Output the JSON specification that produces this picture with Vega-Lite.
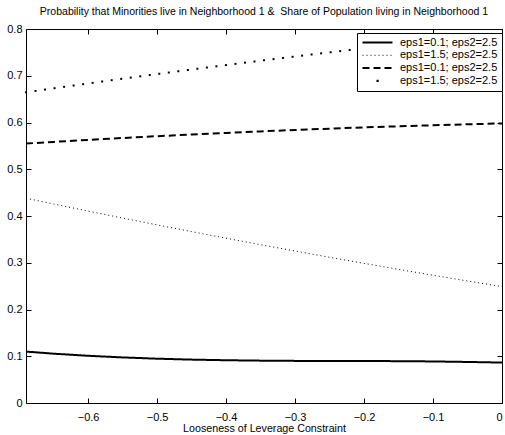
{
  "$schema": "https://vega.github.io/schema/vega-lite/v6.json",
  "width": 476,
  "height": 374,
  "autosize": "none",
  "padding": {"left": 26, "top": 29, "right": 3, "bottom": 32},
  "background": "white",
  "title": {
    "text": "Probability that Minorities live in Neighborhood 1 & \u00a0Share of Population living in Neighborhood 1",
    "font": "Liberation Sans",
    "fontSize": 10.5,
    "fontWeight": "normal",
    "color": "black",
    "offset": 6
  },
  "config": {
    "view": {"stroke": "black", "strokeWidth": 1},
    "font": "Liberation Sans",
    "axis": {
      "grid": false,
      "domain": false,
      "tickColor": "black",
      "tickSize": -5,
      "labelColor": "black",
      "labelFont": "Liberation Sans",
      "labelFontSize": 11,
      "titleFont": "Liberation Sans",
      "titleFontSize": 10.7,
      "titleFontWeight": "normal",
      "titleColor": "black"
    }
  },
  "datasets": {
    "lines": [
      {"x": -0.69, "series": "a", "value": 0.110},
      {"x": -0.65, "series": "a", "value": 0.1055},
      {"x": -0.6, "series": "a", "value": 0.101},
      {"x": -0.55, "series": "a", "value": 0.0975},
      {"x": -0.5, "series": "a", "value": 0.0948},
      {"x": -0.45, "series": "a", "value": 0.0928},
      {"x": -0.4, "series": "a", "value": 0.0915},
      {"x": -0.35, "series": "a", "value": 0.0906},
      {"x": -0.3, "series": "a", "value": 0.0901},
      {"x": -0.25, "series": "a", "value": 0.0899},
      {"x": -0.2, "series": "a", "value": 0.0898},
      {"x": -0.15, "series": "a", "value": 0.0895},
      {"x": -0.1, "series": "a", "value": 0.0889},
      {"x": -0.05, "series": "a", "value": 0.0878},
      {"x": 0, "series": "a", "value": 0.0865},
      {"x": -0.69, "series": "b", "value": 0.438},
      {"x": -0.65, "series": "b", "value": 0.4257},
      {"x": -0.6, "series": "b", "value": 0.4105},
      {"x": -0.55, "series": "b", "value": 0.3956},
      {"x": -0.5, "series": "b", "value": 0.381},
      {"x": -0.45, "series": "b", "value": 0.3666},
      {"x": -0.4, "series": "b", "value": 0.3525},
      {"x": -0.35, "series": "b", "value": 0.3386},
      {"x": -0.3, "series": "b", "value": 0.3251},
      {"x": -0.25, "series": "b", "value": 0.3117},
      {"x": -0.2, "series": "b", "value": 0.2987},
      {"x": -0.15, "series": "b", "value": 0.2858},
      {"x": -0.1, "series": "b", "value": 0.2733},
      {"x": -0.05, "series": "b", "value": 0.261},
      {"x": 0, "series": "b", "value": 0.249},
      {"x": -0.69, "series": "c", "value": 0.555},
      {"x": -0.65, "series": "c", "value": 0.5585},
      {"x": -0.6, "series": "c", "value": 0.5628},
      {"x": -0.55, "series": "c", "value": 0.5668},
      {"x": -0.5, "series": "c", "value": 0.5707},
      {"x": -0.45, "series": "c", "value": 0.5743},
      {"x": -0.4, "series": "c", "value": 0.5777},
      {"x": -0.35, "series": "c", "value": 0.581},
      {"x": -0.3, "series": "c", "value": 0.584},
      {"x": -0.25, "series": "c", "value": 0.5868},
      {"x": -0.2, "series": "c", "value": 0.5895},
      {"x": -0.15, "series": "c", "value": 0.5919},
      {"x": -0.1, "series": "c", "value": 0.5941},
      {"x": -0.05, "series": "c", "value": 0.5962},
      {"x": 0, "series": "c", "value": 0.598}
    ],
    "dots": [
      {"x": -0.69, "series": "d", "value": 0.6646},
      {"x": -0.6762, "series": "d", "value": 0.6675},
      {"x": -0.6624, "series": "d", "value": 0.6705},
      {"x": -0.6486, "series": "d", "value": 0.6734},
      {"x": -0.6348, "series": "d", "value": 0.6763},
      {"x": -0.621, "series": "d", "value": 0.6791},
      {"x": -0.6072, "series": "d", "value": 0.682},
      {"x": -0.5934, "series": "d", "value": 0.6848},
      {"x": -0.5796, "series": "d", "value": 0.6877},
      {"x": -0.5658, "series": "d", "value": 0.6905},
      {"x": -0.552, "series": "d", "value": 0.6933},
      {"x": -0.5382, "series": "d", "value": 0.696},
      {"x": -0.5244, "series": "d", "value": 0.6988},
      {"x": -0.5106, "series": "d", "value": 0.7015},
      {"x": -0.4968, "series": "d", "value": 0.7042},
      {"x": -0.483, "series": "d", "value": 0.7069},
      {"x": -0.4692, "series": "d", "value": 0.7096},
      {"x": -0.4554, "series": "d", "value": 0.7123},
      {"x": -0.4416, "series": "d", "value": 0.715},
      {"x": -0.4278, "series": "d", "value": 0.7176},
      {"x": -0.414, "series": "d", "value": 0.7202},
      {"x": -0.4002, "series": "d", "value": 0.7228},
      {"x": -0.3864, "series": "d", "value": 0.7254},
      {"x": -0.3726, "series": "d", "value": 0.728},
      {"x": -0.3588, "series": "d", "value": 0.7305},
      {"x": -0.345, "series": "d", "value": 0.733},
      {"x": -0.3312, "series": "d", "value": 0.7356},
      {"x": -0.3174, "series": "d", "value": 0.7381},
      {"x": -0.3036, "series": "d", "value": 0.7405},
      {"x": -0.2898, "series": "d", "value": 0.743},
      {"x": -0.276, "series": "d", "value": 0.7455},
      {"x": -0.2622, "series": "d", "value": 0.7479},
      {"x": -0.2484, "series": "d", "value": 0.7503},
      {"x": -0.2346, "series": "d", "value": 0.7527},
      {"x": -0.2208, "series": "d", "value": 0.7551},
      {"x": -0.207, "series": "d", "value": 0.7574},
      {"x": -0.1932, "series": "d", "value": 0.7598},
      {"x": -0.1794, "series": "d", "value": 0.7621},
      {"x": -0.1656, "series": "d", "value": 0.7644},
      {"x": -0.1518, "series": "d", "value": 0.7667},
      {"x": -0.138, "series": "d", "value": 0.769},
      {"x": -0.1242, "series": "d", "value": 0.7713},
      {"x": -0.1104, "series": "d", "value": 0.7735},
      {"x": -0.0966, "series": "d", "value": 0.7757},
      {"x": -0.0828, "series": "d", "value": 0.7779},
      {"x": -0.069, "series": "d", "value": 0.7801},
      {"x": -0.0552, "series": "d", "value": 0.7823},
      {"x": -0.0414, "series": "d", "value": 0.7845},
      {"x": -0.0276, "series": "d", "value": 0.786},
      {"x": -0.0138, "series": "d", "value": 0.787},
      {"x": 0, "series": "d", "value": 0.788}
    ]
  },
  "layer": [
    {
      "data": {"name": "lines"},
      "mark": {"type": "line", "color": "black", "strokeCap": "butt", "clip": true},
      "encoding": {
        "x": {
          "field": "x", "type": "quantitative",
          "scale": {"domain": [-0.69, 0], "nice": false, "zero": false},
          "axis": {
            "orient": "bottom",
            "values": [-0.6, -0.5, -0.4, -0.3, -0.2, -0.1, 0],
            "format": "~g",
            "labelPadding": 13,
            "title": "Looseness of Leverage Constraint",
            "titlePadding": 1
          }
        },
        "y": {
          "field": "value", "type": "quantitative",
          "scale": {"domain": [0, 0.8], "nice": false},
          "axis": {
            "orient": "left",
            "values": [0, 0.1, 0.2, 0.3, 0.4, 0.5, 0.6, 0.7, 0.8],
            "format": "~g",
            "labelPadding": 9,
            "title": null
          }
        },
        "strokeDash": {
          "field": "series", "type": "nominal",
          "scale": {
            "domain": ["a", "b", "c", "d"],
            "range": [[1, 0], [1, 3], [7, 4], [0.01, 14, 2.2, 100]]
          },
          "legend": {
            "title": null,
            "orient": "none",
            "legendX": 331,
            "legendY": 4,
            "padding": 4,
            "strokeColor": "black",
            "fillColor": "white",
            "symbolType": "stroke",
            "symbolSize": 900,
            "symbolStrokeColor": "black",
            "clipHeight": 11,
            "rowPadding": 0.8,
            "labelOffset": 6,
            "labelFont": "Liberation Sans",
            "labelFontSize": 11,
            "labelColor": "black",
            "labelExpr": "datum.value == 'a' || datum.value == 'c' ? 'eps1=0.1; eps2=2.5' : 'eps1=1.5; eps2=2.5'"
          }
        },
        "strokeWidth": {
          "field": "series", "type": "nominal",
          "scale": {"type": "ordinal", "domain": ["a", "b", "c", "d"], "range": [2, 1, 2, 2.2]},
          "legend": {
            "title": null,
            "orient": "none",
            "legendX": 331,
            "legendY": 4
          }
        }
      }
    },
    {
      "data": {"name": "dots"},
      "mark": {"type": "square", "color": "black", "size": 4, "filled": true, "opacity": 1},
      "encoding": {
        "x": {
          "field": "x", "type": "quantitative",
          "axis": {"orient": "top", "values": [-0.6, -0.5, -0.4, -0.3, -0.2, -0.1, 0], "labels": false, "title": null}
        },
        "y": {
          "field": "value", "type": "quantitative",
          "axis": {"orient": "right", "values": [0, 0.1, 0.2, 0.3, 0.4, 0.5, 0.6, 0.7, 0.8], "labels": false, "title": null}
        }
      }
    }
  ],
  "resolve": {"axis": {"x": "independent", "y": "independent"}}
}
